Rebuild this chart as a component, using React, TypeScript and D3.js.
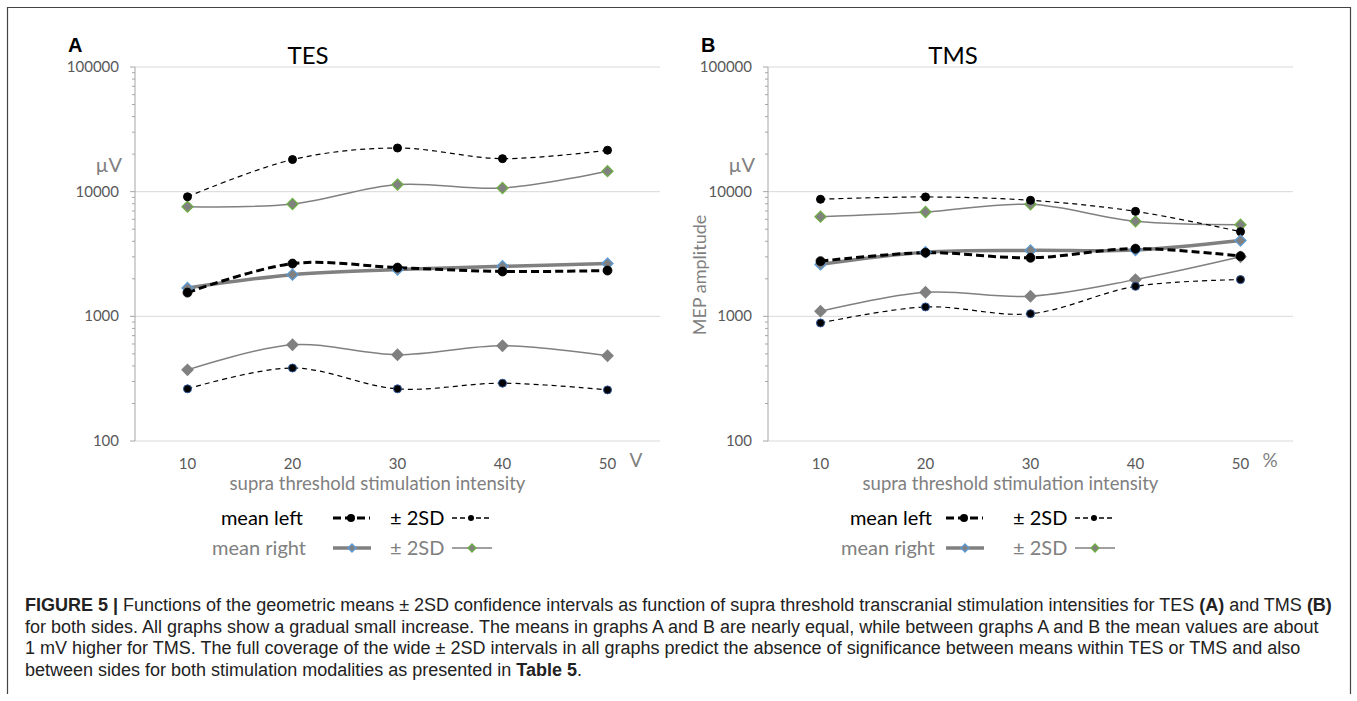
import React from "react";
import * as d3 from "d3";

const categories = ["10", "20", "30", "40", "50"];
const yTicks = [100, 1000, 10000, 100000];

// Panel A (TES)
const tesMeanLeft = [1550, 2650, 2460, 2290, 2330];
const tesMeanRight = [1690, 2160, 2370, 2520, 2650];
const tesUpperLeft = [9100, 18100, 22400, 18400, 21500];
const tesLowerLeft = [262, 385, 262, 291, 257];
const tesUpperRight = [7580, 7960, 11400, 10700, 14600];
const tesLowerRight = [372, 592, 492, 581, 483];

// Panel B (TMS)
const tmsMeanLeft = [2770, 3240, 2950, 3490, 3040];
const tmsMeanRight = [2610, 3270, 3380, 3400, 4050];
const tmsUpperLeft = [8690, 9070, 8530, 6950, 4780];
const tmsLowerLeft = [885, 1190, 1050, 1740, 1970];
const tmsUpperRight = [6300, 6870, 7920, 5780, 5430];
const tmsLowerRight = [1100, 1560, 1450, 1970, 3000];

const captionLines = [
  [["FIGURE 5 | ", true], ["Functions of the geometric means ± 2SD confidence intervals as function of supra threshold transcranial stimulation intensities for TES ", false], ["(A)", true], [" and TMS ", false], ["(B)", true]],
  [["for both sides. All graphs show a gradual small increase. The means in graphs A and B are nearly equal, while between graphs A and B the mean values are about", false]],
  [["1 mV higher for TMS. The full coverage of the wide ± 2SD intervals in all graphs predict the absence of significance between means within TES or TMS and also", false]],
  [["between sides for both stimulation modalities as presented in ", false], ["Table 5", true], [".", false]],
] as [string, boolean][][];

const FONT = "Lato, 'Open Sans', sans-serif";
const GRAY = "#808080";

type Series = { values: number[]; kind: "meanL" | "sdL" | "meanR" | "sdR"; markerStroke: string };

function Diamond({ x, y, r, fill, stroke }: { x: number; y: number; r: number; fill: string; stroke: string }) {
  return <path d={`M${x},${y - r}L${x + r},${y}L${x},${y + r}L${x - r},${y}Z`} fill={fill} stroke={stroke} strokeWidth={1.3} />;
}

function Panel({ x0, x1, letter, title, titleX, unit, series, showYTitle, legendX }: any) {
  const y = d3.scaleLog().domain([100, 100000]).range([441, 67]);
  const xb = d3.scaleBand().domain(categories).range([x0, x1]);
  const cx = (c: string) => (xb(c) as number) + xb.bandwidth() / 2;
  const line = d3
    .line<number>()
    .x((_, i) => cx(categories[i]))
    .y((v) => y(v))
    .curve(d3.curveCatmullRom.alpha(0.5));

  const minor: number[] = [];
  for (let e = 100; e < 100000; e *= 10) for (let k = 2; k <= 9; k++) minor.push(e * k);

  const styleOf = (s: Series) => {
    switch (s.kind) {
      case "meanL":
        return { stroke: "#000", width: 3, dash: "8,4" };
      case "sdL":
        return { stroke: "#000", width: 1.2, dash: "5,4" };
      case "meanR":
        return { stroke: GRAY, width: 3.5, dash: undefined };
      default:
        return { stroke: GRAY, width: 1.5, dash: undefined };
    }
  };

  const order = series.slice().sort((a: Series, b: Series) => {
    const rank = { sdR: 0, sdL: 1, meanR: 2, meanL: 3 } as any;
    return rank[a.kind] - rank[b.kind];
  });

  const lx = legendX;
  return (
    <g>
      <text x={x0 - 67} y={52} fontFamily="Arial, 'Liberation Sans', sans-serif" fontWeight="bold" fontSize={20}>{letter}</text>
      <text x={titleX} y={64} fontFamily={FONT} fontSize={24} textAnchor="middle" fill="#000">{title}</text>
      {yTicks.map((t) => (
        <g key={t}>
          <line x1={x0} x2={x1} y1={y(t)} y2={y(t)} stroke="#d9d9d9" strokeWidth={1} />
          <line x1={x0 - 5} x2={x0} y1={y(t)} y2={y(t)} stroke="#a6a6a6" />
          <text x={x0 - 16} y={y(t) + 5} textAnchor="end" fontFamily={FONT} fontSize={15} fill="#595959">{t}</text>
        </g>
      ))}
      {minor.map((m) => (
        <line key={m} x1={x0 - 3} x2={x0} y1={y(m)} y2={y(m)} stroke="#a6a6a6" />
      ))}
      <line x1={x0} x2={x0} y1={y(100000)} y2={y(100)} stroke="#a6a6a6" />
      <text x={x0 - 13} y={172} textAnchor="end" fontFamily={FONT} fontSize={20} fill={GRAY}>µV</text>
      {showYTitle && (
        <text transform={`translate(${x0 - 62},275) rotate(-90)`} textAnchor="middle" fontFamily={FONT} fontSize={18} fill={GRAY}>MEP amplitude</text>
      )}
      {categories.map((c) => (
        <text key={c} x={cx(c)} y={469} textAnchor="middle" fontFamily={FONT} fontSize={15} fill="#595959">{c}</text>
      ))}
      <text x={cx("50") + 22} y={467} fontFamily={FONT} fontSize={19} fill={GRAY}>{unit}</text>
      <text x={(x0 + x1) / 2 - 20} y={490} textAnchor="middle" fontFamily={FONT} fontSize={18.5} fill={GRAY}>supra threshold stimulation intensity</text>

      {order.map((s: Series, i: number) => {
        const st = styleOf(s);
        return (
          <path key={"l" + i} d={line(s.values) as string} fill="none" stroke={st.stroke} strokeWidth={st.width} strokeDasharray={st.dash} />
        );
      })}
      {order.map((s: Series, i: number) => (
        <g key={"m" + i}>
          {s.values.map((v, j) => {
            const px = cx(categories[j]);
            const py = y(v);
            if (s.kind === "meanL") return <circle key={j} cx={px} cy={py} r={4.5} fill="#000" stroke={s.markerStroke} strokeWidth={0.8} />;
            if (s.kind === "sdL") return <circle key={j} cx={px} cy={py} r={4} fill="#000" stroke={s.markerStroke} strokeWidth={1} />;
            return <Diamond key={j} x={px} y={py} r={5.5} fill={GRAY} stroke={s.markerStroke} />;
          })}
        </g>
      ))}

      {/* legend */}
      <g fontFamily={FONT} fontSize={20}>
        <text x={lx.t1} y={525} textAnchor="end" fill="#000">mean left</text>
        <line x1={lx.s1} x2={lx.s1 + 37} y1={518} y2={518} stroke="#000" strokeWidth={3} strokeDasharray="8,4" />
        <circle cx={lx.s1 + 18} cy={518} r={4} fill="#000" />
        <text x={lx.t2} y={525} fill="#000">± 2SD</text>
        <line x1={lx.s2} x2={lx.s2 + 38} y1={518} y2={518} stroke="#000" strokeWidth={1.4} strokeDasharray="5,3" />
        <circle cx={lx.s2 + 19} cy={518} r={3} fill="#000" />

        <text x={lx.t1 + 3} y={555} textAnchor="end" fill={GRAY}>mean right</text>
        <line x1={lx.s1} x2={lx.s1 + 38} y1={548} y2={548} stroke={GRAY} strokeWidth={3.5} />
        <Diamond x={lx.s1 + 19} y={548} r={4} fill={GRAY} stroke="#5b9bd5" />
        <text x={lx.t2} y={555} fill={GRAY}>± 2SD</text>
        <line x1={lx.s2} x2={lx.s2 + 40} y1={548} y2={548} stroke={GRAY} strokeWidth={1.5} />
        <Diamond x={lx.s2 + 20} y={548} r={4} fill={GRAY} stroke="#70ad47" />
      </g>
    </g>
  );
}

export default function App() {
  const tes: Series[] = [
    { values: tesUpperRight, kind: "sdR", markerStroke: "#70ad47" },
    { values: tesLowerRight, kind: "sdR", markerStroke: GRAY },
    { values: tesUpperLeft, kind: "sdL", markerStroke: "#000" },
    { values: tesLowerLeft, kind: "sdL", markerStroke: "#2f5597" },
    { values: tesMeanRight, kind: "meanR", markerStroke: "#5b9bd5" },
    { values: tesMeanLeft, kind: "meanL", markerStroke: "#000" },
  ];
  const tms: Series[] = [
    { values: tmsUpperRight, kind: "sdR", markerStroke: "#70ad47" },
    { values: tmsLowerRight, kind: "sdR", markerStroke: GRAY },
    { values: tmsUpperLeft, kind: "sdL", markerStroke: "#000" },
    { values: tmsLowerLeft, kind: "sdL", markerStroke: "#2f5597" },
    { values: tmsMeanRight, kind: "meanR", markerStroke: "#5b9bd5" },
    { values: tmsMeanLeft, kind: "meanL", markerStroke: "#000" },
  ];
  return (
    <svg width={1357} height={701} style={{ position: "absolute", left: 0, top: 0, background: "#fff" }}>
      <rect x={0} y={0} width={1357} height={701} fill="#fff" />
      <path d="M7.5,694 L7.5,7.5 L1350.5,7.5 L1350.5,694" fill="none" stroke="#444" strokeWidth={1.2} />
      <Panel x0={135} x1={660} letter="A" title="TES" titleX={308} unit="V" series={tes} showYTitle={false}
        legendX={{ t1: 303, s1: 333, t2: 390, s2: 452 }} />
      <Panel x0={768} x1={1293} letter="B" title="TMS" titleX={953} unit="%" series={tms} showYTitle={true}
        legendX={{ t1: 932, s1: 946, t2: 1013, s2: 1075 }} />
      <g fontFamily="'Liberation Sans', Arial, sans-serif" fontSize={18} fill="#222">
        {captionLines.map((ln, i) => (
          <text key={i} x={25} y={611 + i * 21.5}>
            {ln.map(([t, b], j) => (
              <tspan key={j} fontWeight={b ? "bold" : "normal"}>{t}</tspan>
            ))}
          </text>
        ))}
      </g>
    </svg>
  );
}
